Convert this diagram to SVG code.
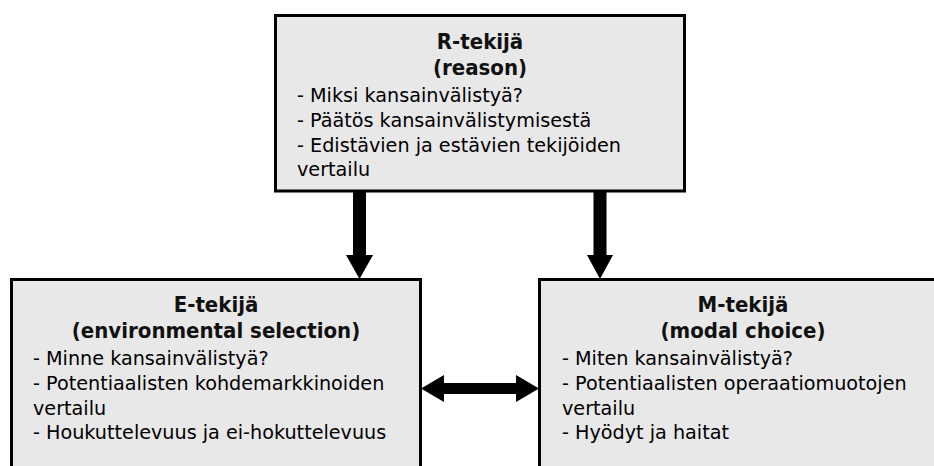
<svg xmlns="http://www.w3.org/2000/svg" width="934" height="466" viewBox="0 0 934 466">
<style>
.box{fill:#e8e8e8;stroke:#000;stroke-width:3}
.t{font-family:"DejaVu Sans Condensed","DejaVu Sans",sans-serif;font-stretch:condensed;font-weight:bold;font-size:22px;fill:#111;text-anchor:middle}
.b{font-family:"DejaVu Sans",sans-serif;font-size:19.2px;fill:#000}
.arr{fill:#000}
</style>
<rect width="934" height="466" fill="#fff"/>
<g id="node-r">
<rect class="box" x="275.5" y="15.5" width="409" height="175.5"/>
<text class="t" x="480" y="49">R-tekijä</text>
<text class="t" x="480" y="75">(reason)</text>
<text class="b" x="297" y="101.5">- Miksi kansainvälistyä?</text>
<text class="b" x="297" y="126.5">- Päätös kansainvälistymisestä</text>
<text class="b" x="297" y="151.5">- Edistävien ja estävien tekijöiden</text>
<text class="b" x="297" y="176">vertailu</text>
</g>
<g id="node-e">
<rect class="box" x="11.5" y="279.5" width="409" height="300"/>
<text class="t" x="216" y="312">E-tekijä</text>
<text class="t" x="216" y="338">(environmental selection)</text>
<text class="b" x="33" y="365">- Minne kansainvälistyä?</text>
<text class="b" x="33" y="390">- Potentiaalisten kohdemarkkinoiden</text>
<text class="b" x="33" y="414.5">vertailu</text>
<text class="b" x="33" y="439">- Houkuttelevuus ja ei-hokuttelevuus</text>
</g>
<g id="node-m">
<rect class="box" x="539.5" y="279.5" width="420" height="300"/>
<text class="t" x="743" y="312">M-tekijä</text>
<text class="t" x="743" y="338">(modal choice)</text>
<text class="b" x="562" y="365">- Miten kansainvälistyä?</text>
<text class="b" x="562" y="390">- Potentiaalisten operaatiomuotojen</text>
<text class="b" x="562" y="414.5">vertailu</text>
<text class="b" x="562" y="439">- Hyödyt ja haitat</text>
</g>
<g id="connectors">
<polygon class="arr" points="353,192 366,192 366,255 373,255 359.5,279 346,255 353,255"/>
<polygon class="arr" points="593.5,192 606.5,192 606.5,255 613,255 600,279 587,255 593.5,255"/>
<polygon class="arr" points="421,388.5 444,375 444,383 516,383 516,375 539,388.5 516,402 516,394 444,394 444,402"/>
</g>
</svg>
